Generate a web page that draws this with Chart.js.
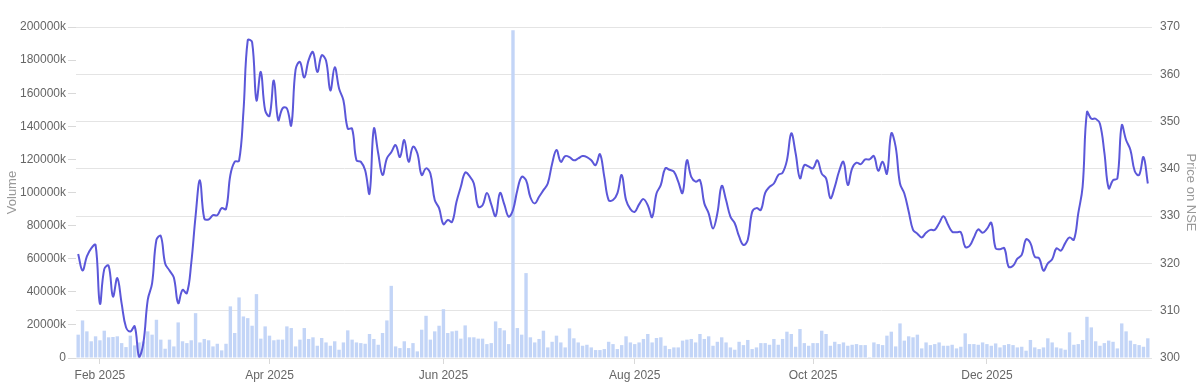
<!DOCTYPE html>
<html>
<head>
<meta charset="utf-8">
<script src="https://cdn.jsdelivr.net/npm/chart.js@4.4.1/dist/chart.umd.min.js"></script>
<style>
  body { margin: 0; background: #fff; }
  #wrap { width: 1204px; height: 389px; }
</style>
</head>
<body>
<div id="wrap"><canvas id="graph-display"></canvas></div>
<script>
// trading sessions, one entry per month: [month, days]
const tradingDays = [
    ['2025-01', [27, 28, 29, 30, 31]],
    ['2025-02', [1, 3, 4, 5, 6, 7, 10, 11, 12, 13, 14, 17, 18, 19, 20, 21, 24, 25, 27, 28]],
    ['2025-03', [3, 4, 5, 6, 7, 10, 11, 12, 13, 17, 18, 19, 20, 21, 24, 25, 26, 27, 28]],
    ['2025-04', [1, 2, 3, 4, 7, 8, 9, 11, 15, 16, 17, 21, 22, 23, 24, 25, 28, 29, 30]],
    ['2025-05', [2, 5, 6, 7, 8, 9, 12, 13, 14, 15, 16, 19, 20, 21, 22, 23, 26, 27, 28, 29, 30]],
    ['2025-06', [2, 3, 4, 5, 6, 9, 10, 11, 12, 13, 16, 17, 18, 19, 20, 23, 24, 25, 26, 27, 30]],
    ['2025-07', [1, 2, 3, 4, 7, 8, 9, 10, 11, 14, 15, 16, 17, 18, 21, 22, 23, 24, 25, 28, 29, 30, 31]],
    ['2025-08', [1, 4, 5, 6, 7, 8, 11, 12, 13, 14, 18, 19, 20, 21, 22, 25, 26, 28, 29]],
    ['2025-09', [1, 2, 3, 4, 5, 8, 9, 10, 11, 12, 15, 16, 17, 18, 19, 22, 23, 24, 25, 26, 29, 30]],
    ['2025-10', [1, 3, 6, 7, 8, 9, 10, 13, 14, 15, 16, 17, 20, 21, 23, 24, 27, 28, 29, 30, 31]],
    ['2025-11', [3, 4, 6, 7, 10, 11, 12, 13, 14, 17, 18, 19, 20, 21, 24, 25, 26, 27, 28]],
    ['2025-12', [1, 2, 3, 4, 5, 8, 9, 10, 11, 12, 15, 16, 17, 18, 19, 22, 23, 24, 26, 29, 30, 31]],
    ['2026-01', [1, 2, 5, 6, 7, 8, 9, 12, 13, 14, 16, 19, 20, 21, 22, 23]]
];

const tickMonths = ['2025-02', '2025-04', '2025-06', '2025-08', '2025-10', '2025-12'];
const tickLabels = ['Feb 2025', 'Apr 2025', 'Jun 2025', 'Aug 2025', 'Oct 2025', 'Dec 2025'];

// closing price on NSE
const price = [
    322.0, 318.5, 321.5, 323.2, 323.9, 311.5, 318.8, 319.5, 313.0, 316.9,
    311.5, 306.5, 305.6, 306.7, 300.3, 303.2, 312.3, 315.8, 325.0, 325.8,
    320.0, 318.5, 317.0, 311.6, 314.4, 313.7, 320.0, 330.0, 337.6, 329.5,
    329.3, 330.2, 330.2, 331.7, 331.5, 338.7, 341.5, 341.7, 352.0, 367.2,
    366.8, 354.5, 360.5, 352.4, 351.2, 358.7, 350.3, 352.8, 352.8, 349.2,
    361.0, 362.6, 359.3, 363.0, 364.7, 360.5, 364.0, 362.9, 356.6, 361.5,
    357.0, 354.5, 348.5, 348.5, 341.8, 341.5, 339.7, 334.8, 348.5, 343.3,
    338.7, 342.2, 343.5, 345.0, 342.5, 346.1, 341.5, 344.7, 343.3, 338.7,
    340.1, 339.0, 333.4, 331.7, 328.3, 329.2, 328.8, 333.0, 336.2, 339.2,
    338.5, 336.9, 332.0, 332.3, 334.9, 332.5, 330.0, 334.9, 332.5, 329.9,
    331.3, 335.5, 338.3, 337.6, 334.0, 332.7, 334.1, 335.5, 336.9, 341.1,
    344.0, 341.5, 342.7, 342.5, 341.8, 342.2, 342.7, 342.5, 341.8, 340.8,
    343.1, 338.3, 333.4, 333.4, 334.8, 338.7, 333.4, 331.5, 330.9, 332.5,
    333.6, 332.3, 329.8, 334.8, 336.6, 340.1, 339.8, 339.4, 337.3, 334.9,
    341.8, 338.3, 337.3, 337.6, 332.7, 330.6, 327.4, 330.6, 336.4, 333.4,
    329.9, 328.5, 325.7, 323.9, 325.0, 330.9, 331.7, 331.3, 334.9, 336.2,
    336.9, 338.7, 339.2, 341.8, 347.5, 343.3, 338.0, 340.8, 340.5, 340.1,
    341.8, 339.0, 338.0, 333.8, 336.2, 339.5, 341.5, 336.6, 340.1, 341.3,
    341.0, 342.0, 342.0, 342.7, 339.6, 341.5, 339.0, 347.5, 344.7, 336.9,
    334.8, 331.0, 327.1, 326.3, 325.5, 326.5, 327.1, 327.1, 328.5, 330.0,
    328.3, 326.7, 326.6, 326.6, 323.5, 323.7, 325.5, 327.2, 326.5, 327.3,
    328.6, 323.2, 323.0, 323.2, 319.3, 319.5, 321.0, 321.8, 325.1, 324.3,
    321.4, 321.1, 318.5, 320.0, 320.9, 323.2, 322.7, 324.3, 325.5, 325.0,
    330.6, 336.2, 352.0, 350.6, 350.6, 349.5, 343.5, 335.9, 337.6, 338.0,
    349.2, 346.1, 344.0, 339.5, 338.7, 342.5, 336.9
];

// traded volume, in thousands of shares
const volume = [
    14100, 22700, 16100, 10100, 13100, 10700, 16500, 12500, 12700, 13100,
    9000, 6600, 13500, 7600, 9400, 10000, 16100, 14100, 23100, 11100,
    5600, 11100, 7000, 21500, 10100, 9000, 10700, 27100, 9400, 11500,
    10700, 7000, 8600, 4600, 8600, 31200, 15100, 36600, 25100, 24100,
    19500, 38600, 11700, 19100, 13500, 10700, 11100, 11100, 19100, 18100,
    7000, 11100, 18100, 11500, 12500, 7400, 12100, 9400, 7400, 10100,
    5000, 9400, 16700, 11100, 9400, 9000, 8600, 14500, 11500, 8000,
    15100, 22700, 43600, 7000, 6000, 10100, 6000, 9000, 4000, 17100,
    25500, 11100, 16100, 19500, 29500, 15100, 16100, 16500, 11700, 19700,
    12500, 12500, 11700, 11700, 8400, 9000, 22100, 18100, 16700, 8400,
    198000, 18100, 14100, 51300, 12500, 9400, 11500, 16500, 6400, 9800,
    13500, 9400, 6400, 17900, 11900, 9400, 7400, 8000, 6400, 4800,
    4800, 5400, 9800, 8400, 5400, 7800, 13100, 9400, 8400, 9400,
    11500, 14500, 9400, 12100, 12500, 7400, 5400, 6400, 6400, 10500,
    11100, 11500, 9400, 14500, 11500, 13100, 7400, 9800, 12500, 9400,
    6400, 5000, 9800, 7800, 10900, 5400, 6400, 9000, 9000, 8000,
    11500, 8000, 11500, 15900, 14500, 6800, 17500, 9000, 7400, 9000,
    9000, 16500, 14500, 7400, 9800, 8400, 9400, 7400, 8000, 8400,
    7800, 7800, 500, 9400, 8400, 7800, 13500, 15900, 7000, 20900,
    10500, 13100, 12500, 14100, 5800, 9400, 7800, 8400, 9400, 7400,
    7400, 8000, 5800, 6800, 14900, 8400, 8400, 8000, 9400, 8400,
    7400, 8800, 6400, 7800, 8400, 7800, 6400, 6800, 4400, 10900,
    6400, 5400, 6400, 11900, 9400, 6400, 5800, 5000, 15500, 8000,
    8400, 10900, 24900, 18500, 10100, 7400, 9000, 10500, 9800, 5800,
    20900, 16100, 10500, 8400, 7800, 6800, 11900
];

let labels = [];
let monthStarts = {};
tradingDays.forEach(([month, days]) => {
    monthStarts[labels.length] = month;
    days.forEach(d => labels.push(`${month}-${String(d).padStart(2, '0')}`));
});

const tickFont = { family: "'Liberation Sans', Arial, sans-serif", size: 12 };
const titleFont = { family: "'Liberation Sans', Arial, sans-serif", size: 13 };

const config = {
    data: {
        labels: labels,
        datasets: [
            {
                type: 'line',
                label: 'Price on NSE',
                data: price,
                yAxisID: 'price',
                borderColor: '#5b57d9',
                borderWidth: 2,
                pointRadius: 0,
                tension: 0.4,
                order: 0
            },
            {
                type: 'bar',
                label: 'Volume',
                data: volume,
                yAxisID: 'volume',
                backgroundColor: '#c3d5f7',
                barPercentage: 0.78,
                categoryPercentage: 1.0,
                order: 1
            }
        ]
    },
    options: {
        responsive: true,
        maintainAspectRatio: false,
        animation: false,
        layout: { padding: { top: 27, left: 0, right: 0, bottom: 0 } },
        plugins: {
            legend: { display: false },
            tooltip: { enabled: false }
        },
        scales: {
            x: {
                type: 'category',
                offset: true,
                border: { display: false },
                grid: { drawOnChartArea: false, offset: false, color: '#d9d9d9', tickLength: 6 },
                ticks: {
                    autoSkip: false,
                    maxRotation: 0,
                    padding: 4,
                    color: '#666',
                    font: tickFont,
                    callback: (value, index) => {
                        const month = monthStarts[index];
                        const pos = tickMonths.indexOf(month);
                        return pos >= 0 ? tickLabels[pos] : null;
                    }
                },
                afterFit: (scale) => { scale.height = 31; }
            },
            volume: {
                position: 'left',
                min: 0,
                max: 200000,
                border: { display: false },
                grid: { drawOnChartArea: false, color: '#d9d9d9', tickLength: 8 },
                ticks: {
                    stepSize: 20000,
                    padding: 2,
                    color: '#666',
                    font: tickFont,
                    callback: (v) => v === 0 ? '0' : v + 'k'
                },
                title: { display: true, text: 'Volume', color: '#999', font: titleFont, padding: 5 },
                afterFit: (scale) => { scale.width = 76; }
            },
            price: {
                position: 'right',
                min: 300,
                max: 370,
                border: { display: false },
                grid: { color: '#e4e4e4', tickLength: 2 },
                ticks: {
                    stepSize: 10,
                    padding: 8,
                    color: '#666',
                    font: tickFont
                },
                title: { display: true, text: 'Price on NSE', color: '#999', font: titleFont, padding: 6 },
                afterFit: (scale) => { scale.width = 54; }
            }
        }
    }
};

window.chartData = new Chart(document.getElementById('graph-display'), config);
</script>
</body>
</html>
